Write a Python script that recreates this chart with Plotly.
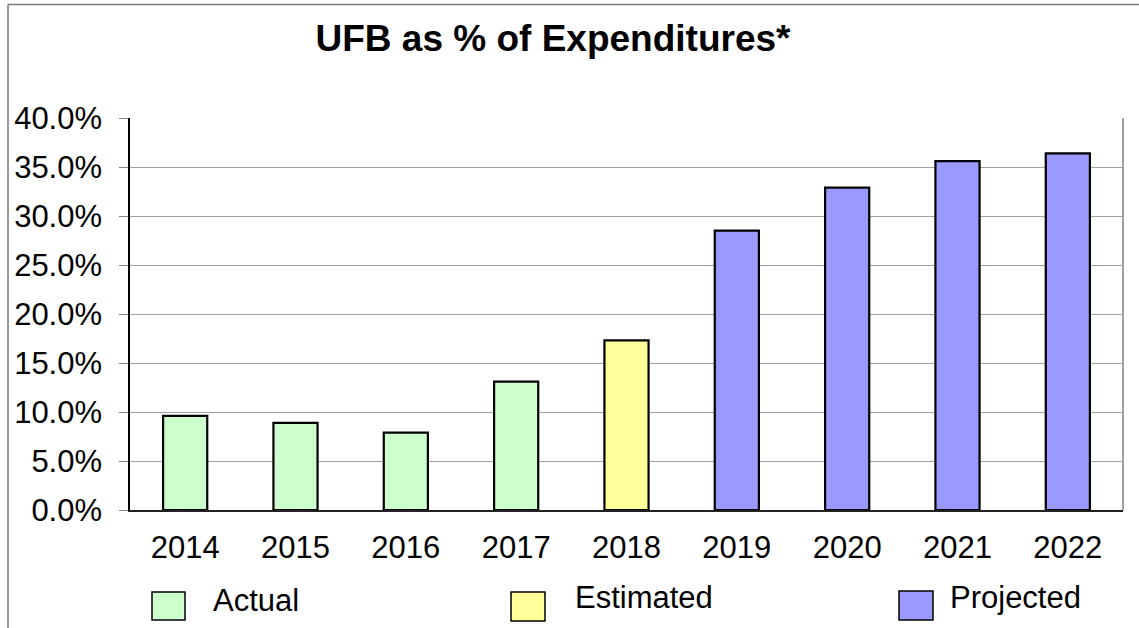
import plotly.graph_objects as go

# ---- data ----
years = ["2014", "2015", "2016", "2017", "2018", "2019", "2020", "2021", "2022"]
ufb_pct = [9.6, 8.9, 7.9, 13.1, 17.3, 28.5, 32.9, 35.6, 36.4]
status = ["Actual", "Actual", "Actual", "Actual", "Estimated",
          "Projected", "Projected", "Projected", "Projected"]
series_names = ["Actual", "Estimated", "Projected"]
series_colors = ["#CCFFCC", "#FFFF99", "#9999FF"]
title_text = "UFB as % of Expenditures*"

# ---- geometry ----
W, H = 1139, 628
L, R, T, B = 130, 16, 118, 118
PW, PH = W - L - R, H - T - B


def px_x(px):
    return (px - L) / PW


def px_y(py):
    return (H - B - py) / PH


FONT = "Liberation Sans, Arial, sans-serif"

fig = go.Figure()
for name, color in zip(series_names, series_colors):
    xs = [y for y, s in zip(years, status) if s == name]
    vs = [v for v, s in zip(ufb_pct, status) if s == name]
    fig.add_trace(go.Bar(
        x=xs, y=vs, name=name, showlegend=False,
        marker=dict(color=color, line=dict(color="black", width=2.2)),
    ))

fig.update_layout(
    width=W, height=H,
    margin=dict(l=L, r=R, t=T, b=B),
    paper_bgcolor="white", plot_bgcolor="white",
    barmode="overlay", bargap=0.6,
    font=dict(family=FONT, color="black"),
    title=dict(text="<b>" + title_text + "</b>", font=dict(size=37, family=FONT, color="black"),
               x=553 / W, xanchor="center", xref="container",
               y=1 - 38 / H, yanchor="middle", yref="container"),
    xaxis=dict(type="category", categoryorder="array", categoryarray=years,
               showline=True, linecolor="#222", linewidth=1.5,
               ticks="", tickfont=dict(size=31), ticklabelstandoff=9,
               showgrid=False, zeroline=False),
    yaxis=dict(range=[0, 40], dtick=5, tick0=0, tickformat=".1f", ticksuffix="%",
               showline=True, linecolor="black", linewidth=1.5,
               ticks="outside", ticklen=9, tickcolor="#888", tickwidth=1,
               tickfont=dict(size=31), ticklabelstandoff=11,
               showgrid=True, gridcolor="#A0A0A0", gridwidth=1, zeroline=False),
)

shapes = []
# plot-area right border
shapes.append(dict(type="line", xref="paper", yref="paper", x0=1, x1=1, y0=0, y1=1,
                   line=dict(color="#A0A0A0", width=2)))
# outer chart frame (left and top edges)
shapes.append(dict(type="line", xref="paper", yref="paper",
                   x0=px_x(8), x1=px_x(8), y0=px_y(4.5), y1=px_y(640),
                   line=dict(color="#777", width=1.5)))
shapes.append(dict(type="line", xref="paper", yref="paper",
                   x0=px_x(8), x1=px_x(1150), y0=px_y(4.5), y1=px_y(4.5),
                   line=dict(color="#777", width=1.5)))

# custom legend
legend_boxes = [(152, 592, 185, 620), (511, 592, 545, 621), (899, 591, 933, 620)]
legend_text = [(211, 600), (573, 597.5), (948, 597.5)]
annotations = []
for name, color, (x0, y0, x1, y1), (tx, ty) in zip(series_names, series_colors, legend_boxes, legend_text):
    shapes.append(dict(type="rect", xref="paper", yref="paper",
                       x0=px_x(x0), x1=px_x(x1), y0=px_y(y1), y1=px_y(y0),
                       fillcolor=color, line=dict(color="black", width=1.5)))
    annotations.append(dict(text=name, xref="paper", yref="paper",
                            x=px_x(tx), y=px_y(ty), xanchor="left", yanchor="middle",
                            showarrow=False, font=dict(size=31, family=FONT, color="black")))

fig.update_layout(shapes=shapes, annotations=annotations)

fig.write_html("out.html", config={"displayModeBar": False},
               post_script="document.body.style.margin='0px';")
